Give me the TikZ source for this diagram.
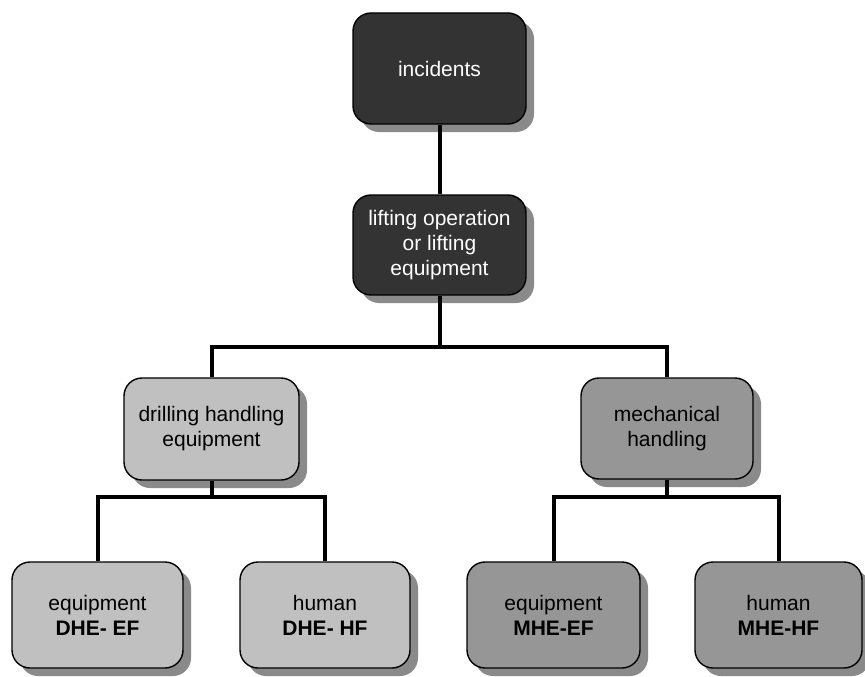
\documentclass[tikz,border=0pt]{standalone}
\usepackage{fontspec}
\setmainfont{Liberation Sans}
\usetikzlibrary{shadows}
\definecolor{darkbox}{HTML}{333333}
\definecolor{lightbox}{HTML}{C0C0C0}
\definecolor{midbox}{HTML}{969696}
\definecolor{shadowgray}{HTML}{8A8A8A}
\tikzset{
  box/.style={draw=black, line width=1.4pt, rounded corners=18pt, align=center,
    font=\fontsize{21}{25}\selectfont,
    general shadow={fill=shadowgray, shadow xshift=8pt, shadow yshift=-8pt},
    inner sep=0pt},
  darkn/.style={box, fill=darkbox, text=white},
  lightn/.style={box, fill=lightbox, text=black},
  midn/.style={box, fill=midbox, text=black},
  conn/.style={draw=black, line width=4pt}
}
\begin{document}
\begin{tikzpicture}[x=1pt, y=-1pt]
\useasboundingbox (0,0) rectangle (865,677);
\fill[white] (0,0) rectangle (865,677);
\node[darkn, minimum width=173pt, minimum height=111pt] (inc) at (439.5,68.5) {incidents};
\node[darkn, minimum width=173pt, minimum height=100pt] (lift) at (439.5,245) {lifting operation\\or lifting\\equipment};
\node[lightn, minimum width=175pt, minimum height=102pt] (dhe) at (211.5,429) {drilling handling\\equipment};
\node[midn, minimum width=172pt, minimum height=101pt] (mhe) at (667,428.5) {mechanical\\handling};
\node[lightn, minimum width=171pt, minimum height=106pt] (dheef) at (97.5,615) {equipment\\\textbf{DHE- EF}};
\node[lightn, minimum width=170pt, minimum height=106pt] (dhehf) at (325,615) {human\\\textbf{DHE- HF}};
\node[midn, minimum width=173pt, minimum height=106pt] (mheef) at (553.5,615) {equipment\\\textbf{MHE-EF}};
\node[midn, minimum width=167pt, minimum height=106pt] (mhehf) at (778.5,615) {human\\\textbf{MHE-HF}};
\coordinate (b1) at (439.5,347);
\coordinate (b2) at (211.5,497);
\coordinate (b3) at (667,497);
\draw[conn] (inc.south) -- (lift.north);
\draw[conn] (lift.south) -- (b1);
\draw[conn] (dhe.north) -- (dhe.north |- b1) -- (mhe.north |- b1) -- (mhe.north);
\draw[conn] (dhe.south) -- (b2);
\draw[conn] (dheef.north) -- (dheef.north |- b2) -- (dhehf.north |- b2) -- (dhehf.north);
\draw[conn] (mhe.south) -- (b3);
\draw[conn] (mheef.north) -- (mheef.north |- b3) -- (mhehf.north |- b3) -- (mhehf.north);
\end{tikzpicture}
\end{document}
